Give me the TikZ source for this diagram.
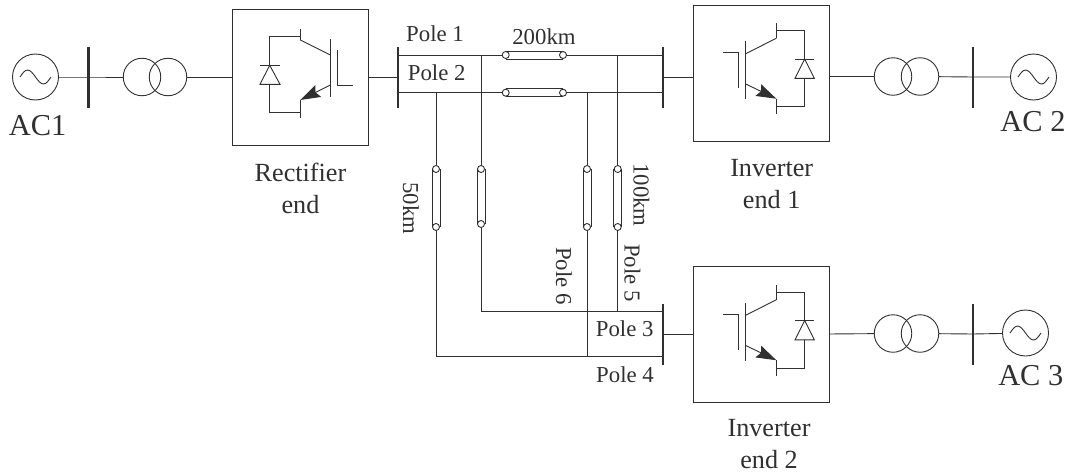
\documentclass[tikz,border=0pt]{standalone}
\usepackage{fontspec}
\setmainfont{Liberation Serif}
\usepackage{xcolor}
\usetikzlibrary{arrows.meta}
\definecolor{inkgray}{HTML}{303030}
\tikzset{
	wire/.style={line width=0.9pt, color=inkgray},
	busbar/.style={line width=2.2pt, color=inkgray},
	emitter/.style={wire, -{Stealth[length=20pt, width=13pt, inset=3pt]}},
	source/.style={circle, draw=inkgray, line width=0.9pt, minimum size=46pt, inner sep=0pt},
	winding/.style={circle, draw=inkgray, line width=0.9pt, minimum size=37.5pt, inner sep=0pt},
	converter/.style={rectangle, draw=inkgray, line width=0.9pt, minimum size=136pt, inner sep=0pt},
	port/.style={circle, draw=inkgray, fill=white, line width=0.9pt, minimum size=7pt, inner sep=0pt},
	smalltext/.style={text=inkgray, font=\fontsize{22.8}{25}\selectfont, inner sep=0pt},
	endtext/.style={text=inkgray, font=\fontsize{26.2}{32}\selectfont, align=center, inner sep=0pt},
	actext/.style={text=inkgray, font=\fontsize{30.4}{34}\selectfont, inner sep=0pt},
	pics/wave/.style={code={
			\draw[wire] (-15.5,0) sin (-8,-7) cos (0,0) sin (8,7) cos (15.5,0);
		}},
	pics/inverter/.style={code={
			\draw[wire] (-37.7,-20.3) -- (-22.3,-20.3) -- (-22.3,15.3);
			\draw[wire] (-15.3,-31.7) -- (-15.3,26);
			\draw[wire] (-15.3,-19.3) -- (15.3,-34.7);
			\draw[emitter] (-15.3,11) -- (15.3,25.7);
			\draw[wire] (15.3,-49.7) -- (15.3,-34.7);
			\draw[wire] (15.3,25.7) -- (15.3,41);
			\draw[wire] (15.3,-42.3) -| (43.7,33.7) -- (15.3,33.7);
			\draw[wire, fill=white] (43.7,-14) -- (34,5.3) -- (53.3,5.3) -- cycle;
			\draw[wire] (34,-14) -- (53.3,-14);
		}}
}

\begin{document}
\begin{tikzpicture}[x=1pt, y=-1pt]
	\useasboundingbox (0,0) rectangle (1073,474);

	% Sources, transformers and converters
	\node[source] (AC1) at (35.5,77) {};
	\node[source] (AC2) at (1033.5,77) {};
	\node[source] (AC3) at (1025.5,333) {};
	\foreach \s in {AC1,AC2,AC3} {
			\pic at (\s) {wave};
		}
	\node[winding] (TR1a) at (142,77) {};
	\node[winding] (TR1b) at (168,77) {};
	\node[winding] (TR2a) at (893,76.5) {};
	\node[winding] (TR2b) at (920,76.5) {};
	\node[winding] (TR3a) at (893,333.5) {};
	\node[winding] (TR3b) at (920,333.5) {};
	\node[converter] (REC) at (300,77.5) {};
	\node[converter] (INV1) at (761,73) {};
	\node[converter] (INV2) at (761,334.5) {};
	\pic at (INV1) {inverter};
	\pic at (INV2) {inverter};

	% Rectifier switch
	\draw[wire] (353.3,85.3) -- (337.7,85.3) -- (337.7,50);
	\draw[wire] (330.3,39.3) -- (330.3,97.3);
	\draw[wire] (330.3,55) -- (300.3,40);
	\draw[emitter] (330.3,85) -- (300.3,100);
	\draw[wire] (300.3,29) -- (300.3,40);
	\draw[wire] (300.3,100) -- (300.3,118);
	\draw[wire] (300.3,36.7) -| (269.7,112.3) -- (300.3,112.3);
	\draw[wire, fill=white] (269.7,65.3) -- (260,84.3) -- (280,84.3) -- cycle;
	\draw[wire] (260,65.3) -- (280,65.3);

	% Busbars
	\foreach \b/\x/\y in {B1/88.5/77, B2/398/77, B3/663/77, B4/973/77, B5/663/334.5, B6/973/334} {
			\coordinate (\b) at (\x,\y);
			\draw[busbar] (\x,\y-30.5) -- (\x,\y+30.5);
		}

	% Junctions
	\coordinate (P1) at (398,55);
	\coordinate (P2) at (398,92.7);
	\coordinate (P3) at (663,311.7);
	\coordinate (P4) at (663,356.7);
	\coordinate (E1) at (663,55);
	\coordinate (E2) at (663,92.7);
	\coordinate (J1) at (436,92.7);
	\coordinate (J2) at (481,55);
	\coordinate (J3) at (587,92.7);
	\coordinate (J4) at (617.7,55);
	\coordinate (K1) at (436,356.7);
	\coordinate (K2) at (481,311.7);
	\coordinate (K3) at (587,356.7);
	\coordinate (K4) at (617.7,311.7);

	% Cables
	\foreach \c/\xa/\xb/\y in {CA/505.7/563/55, CB/505.7/563/92.7} {
			\node[port] (\c a) at (\xa,\y) {};
			\node[port] (\c b) at (\xb,\y) {};
			\draw[wire] (\c a.north) -- (\c b.north);
			\draw[wire] (\c a.south) -- (\c b.south);
		}
	\foreach \c/\x/\ya/\yb in {CC/436/169/227, CD/481/169/224, CE/587/169/227, CF/617.7/169/227} {
			\node[port] (\c a) at (\x,\ya) {};
			\node[port] (\c b) at (\x,\yb) {};
			\draw[wire] (\c a.west) -- (\c b.west);
			\draw[wire] (\c a.east) -- (\c b.east);
		}

	% Connections
	\draw[wire] (AC1) -- (B1) -- (TR1a);
	\draw[wire] (TR1b) -- (TR1b -| REC.west);
	\draw[wire] (REC.east |- B2) -- (B2);
	\draw[wire] (B3) -- (INV1.west |- B3);
	\draw[wire] (INV1.east |- TR2a) -- (TR2a);
	\draw[wire] (TR2b) -- (B4) -- (AC2);
	\draw[wire] (B5) -- (INV2);
	\draw[wire] (INV2) -- (TR3a);
	\draw[wire] (TR3b) -- (B6) -- (AC3);

	\draw[wire] (P1) -- (CAa);
	\draw[wire] (CAb) -- (E1);
	\draw[wire] (P2) -- (CBa);
	\draw[wire] (CBb) -- (E2);
	\draw[wire] (J1) -- (CCa);
	\draw[wire] (CCb) -- (K1) -- (P4);
	\draw[wire] (J2) -- (CDa);
	\draw[wire] (CDb) -- (K2) -- (P3);
	\draw[wire] (J3) -- (CEa);
	\draw[wire] (CEb) -- (K3);
	\draw[wire] (J4) -- (CFa);
	\draw[wire] (CFb) -- (K4);

	% Labels
	\node[actext] (lblAC1) at (37.7,126) {AC1};
	\node[actext] (lblAC2) at (1033,121.5) {AC 2};
	\node[actext] (lblAC3) at (1030.8,376) {AC 3};
	\node[endtext] (lblREC) at (300.5,188) {Rectifier\\end};
	\node[endtext] (lblINV1) at (771.7,184) {Inverter\\end 1};
	\node[endtext] (lblINV2) at (769,444) {Inverter\\end 2};
	\node[smalltext] (lblP1) at (435,34) {Pole 1};
	\node[smalltext] (lblP2) at (436.7,72.5) {Pole 2};
	\node[smalltext] (lblP3) at (624.7,329) {Pole 3};
	\node[smalltext] (lblP4) at (625,374.5) {Pole 4};
	\node[smalltext] (lblLong) at (544,37) {200km};
	\node[smalltext, rotate=-90] (lblW) at (411,208.5) {50km};
	\node[smalltext, rotate=-90] (lblE) at (641.5,195) {100km};
	\node[smalltext, rotate=-90] (lblP6) at (564,276) {Pole 6};
	\node[smalltext, rotate=-90] (lblP5) at (632.5,273) {Pole 5};
\end{tikzpicture}
\end{document}
